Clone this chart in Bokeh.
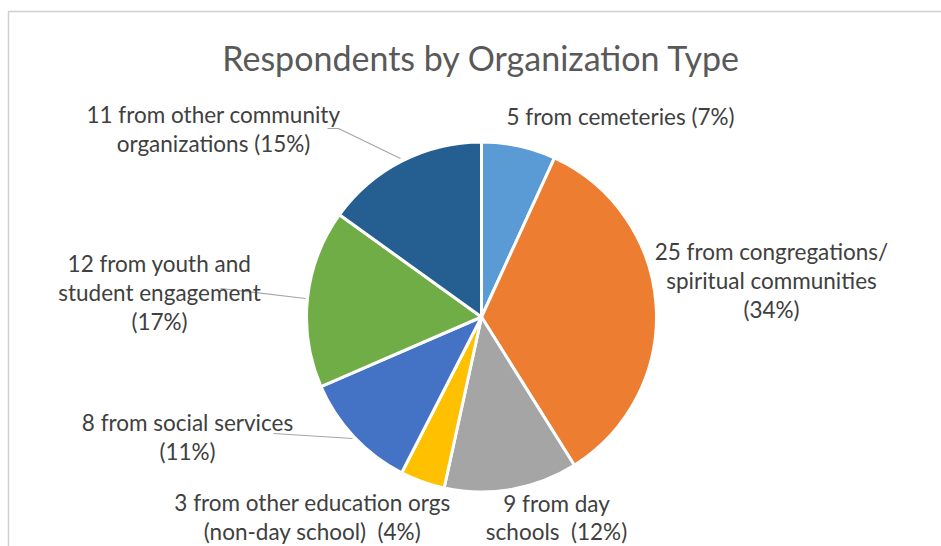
import math
from bokeh.plotting import figure
from bokeh.models import Range1d, ColumnDataSource
from bokeh.embed import file_html
from bokeh.resources import INLINE
from bokeh.core.properties import value

# ---- data ----
categories = ["cemeteries", "congregations/spiritual communities", "day schools",
              "other education orgs (non-day school)", "social services",
              "youth and student engagement", "other community organizations"]
counts = [5, 25, 9, 3, 8, 12, 11]
colors = ["#5B9BD5", "#ED7D31", "#A5A5A5", "#FFC000", "#4472C4", "#70AD47", "#255E91"]
label_lines = [
    ["5 from cemeteries (7%)"],
    ["25 from congregations/", "spiritual communities", "(34%)"],
    ["9 from day", "schools\u00a0 (12%)"],
    ["3 from other education orgs", "(non-day school)\u00a0 (4%)"],
    ["8 from social services", "(11%)"],
    ["12 from youth and", "student engagement", "(17%)"],
    ["11 from other community", "organizations (15%)"],
]
title_text = "Respondents by Organization Type"

W, H = 941, 546
# layout (pixel coordinates, y measured from top)
cx, cy, R = 481, 316.5, 175
label_pos = [(620, 116), (771, 251), (556, 503), (312, 502), (187, 422), (159, 263), (213, 114)]
line_gaps = [29, 29, 28, 29, 29, 29, 29]
leaders = [
    None, None, None, None,
    [(273, 433), (352, 438)],
    [(220, 288), (305, 298)],
    [(327, 128), (338, 128), (400, 158)],
]

def Y(py):
    return H - py

p = figure(width=W, height=H, output_backend="svg", toolbar_location=None,
           x_range=Range1d(0, W), y_range=Range1d(0, H),
           min_border=0, outline_line_color=None)
p.axis.visible = False
p.grid.visible = False
p.background_fill_color = "white"
p.border_fill_color = "white"

# frame
p.line([8, 8, W + 5], [Y(H + 5), Y(11), Y(11)], line_color="#d0d0d0", line_width=1.5)

# pie
total = sum(counts)
starts, ends = [], []
acc = 0
for c in counts:
    starts.append(math.pi / 2 - 2 * math.pi * acc / total)
    acc += c
    ends.append(math.pi / 2 - 2 * math.pi * acc / total)
src = ColumnDataSource(dict(start=starts, end=ends, color=colors, cat=categories))
p.wedge(x=cx, y=Y(cy), radius=R, start_angle="start", end_angle="end",
        direction="clock", fill_color="color", line_color="white", line_width=3, source=src)

# leader lines
for ld in leaders:
    if ld:
        p.line([q[0] for q in ld], [Y(q[1]) for q in ld], line_color="#A6A6A6", line_width=1.2)

# labels
xs, ys, ts = [], [], []
for (lx, ly), gap, lines in zip(label_pos, line_gaps, label_lines):
    for i, t in enumerate(lines):
        xs.append(lx)
        ys.append(Y(ly + i * gap))
        ts.append(t)
p.text(x=xs, y=ys, text=ts, text_align="center", text_baseline="middle",
       text_font=value("Lato"), text_font_size="22.5px", text_color="#404040")

# title
p.text(x=[481], y=[Y(57)], text=[title_text], text_align="center", text_baseline="middle",
       text_font=value("Lato"), text_font_size="34px", text_color="#595959")

open("out.html", "w").write(file_html(p, INLINE))
